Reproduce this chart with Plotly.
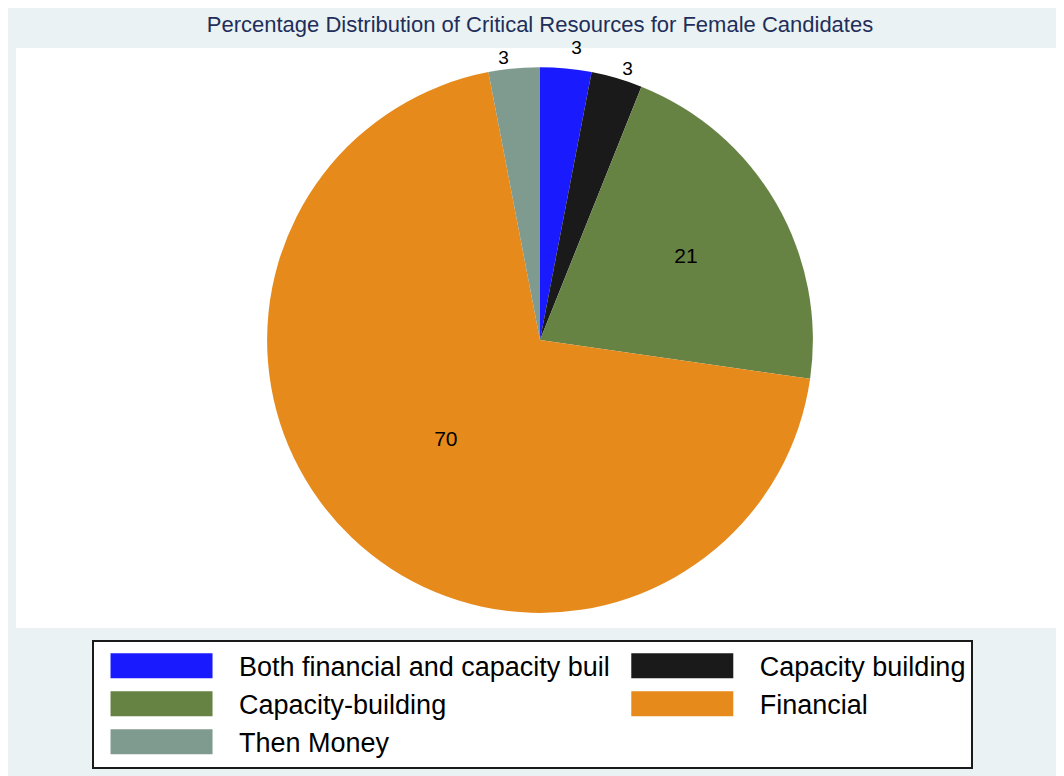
import plotly.graph_objects as go

categories = ["Both financial and capacity buil", "Capacity building",
              "Capacity-building", "Financial", "Then Money"]
percentages = [3.03, 3.03, 21.21, 69.70, 3.03]
colors = ["#1a1aff", "#1a1a1a", "#678343", "#e68a1c", "#7f9a8f"]
text_positions = ["outside", "outside", "inside", "inside", "outside"]

fig = go.Figure(go.Pie(
    labels=categories,
    values=percentages,
    sort=False,
    direction="clockwise",
    rotation=0,
    marker=dict(colors=colors, line=dict(width=0)),
    textinfo="value",
    texttemplate="%{value:.0f}",
    textposition=text_positions,
    insidetextorientation="horizontal",
    insidetextfont=dict(color="black", size=21, family="Liberation Sans"),
    outsidetextfont=dict(color="black", size=19, family="Liberation Sans"),
    domain=dict(x=[0, 1048 / 1056], y=[0.026, 0.967]),
    hoverinfo="label+percent",
))

fig.update_layout(
    width=1064, height=776,
    margin=dict(l=8, r=0, t=40, b=156, autoexpand=False),
    paper_bgcolor="#eaf2f3",
    font=dict(family="Liberation Sans", color="black"),
    title=dict(text="Percentage Distribution of Critical Resources for Female Candidates",
               x=0.5, xref="container", xanchor="center",
               y=1 - 16.5 / 776, yref="container", yanchor="middle",
               font=dict(size=22, color="#1f2e5a", family="Liberation Sans")),
    shapes=[dict(type="rect", xref="paper", yref="paper", x0=0, x1=1, y0=0, y1=1,
                 fillcolor="white", line=dict(width=0), layer="below")],
    showlegend=True,
    legend=dict(orientation="h", x=0.072, xanchor="left", y=-0.02, yanchor="top",
                bgcolor="white", bordercolor="#1a1a1a", borderwidth=2,
                font=dict(size=27, family="Liberation Sans", color="black"),
                itemwidth=135, traceorder="normal"),
)

# Style tweaks: wide legend swatches as in the reference, no label leader lines
post = """
var gd = document.querySelector('.plotly-graph-div');
function restyleDecor() {
  gd.querySelectorAll('path.legendpie').forEach(function(p) {
    p.setAttribute('d', 'M46,12.5H-56V-12.5H46Z');
  });
  gd.querySelectorAll('path.textline').forEach(function(p) {
    p.style.display = 'none';
  });
}
restyleDecor();
gd.on('plotly_afterplot', restyleDecor);
"""

fig.write_html("out.html", post_script=post)
